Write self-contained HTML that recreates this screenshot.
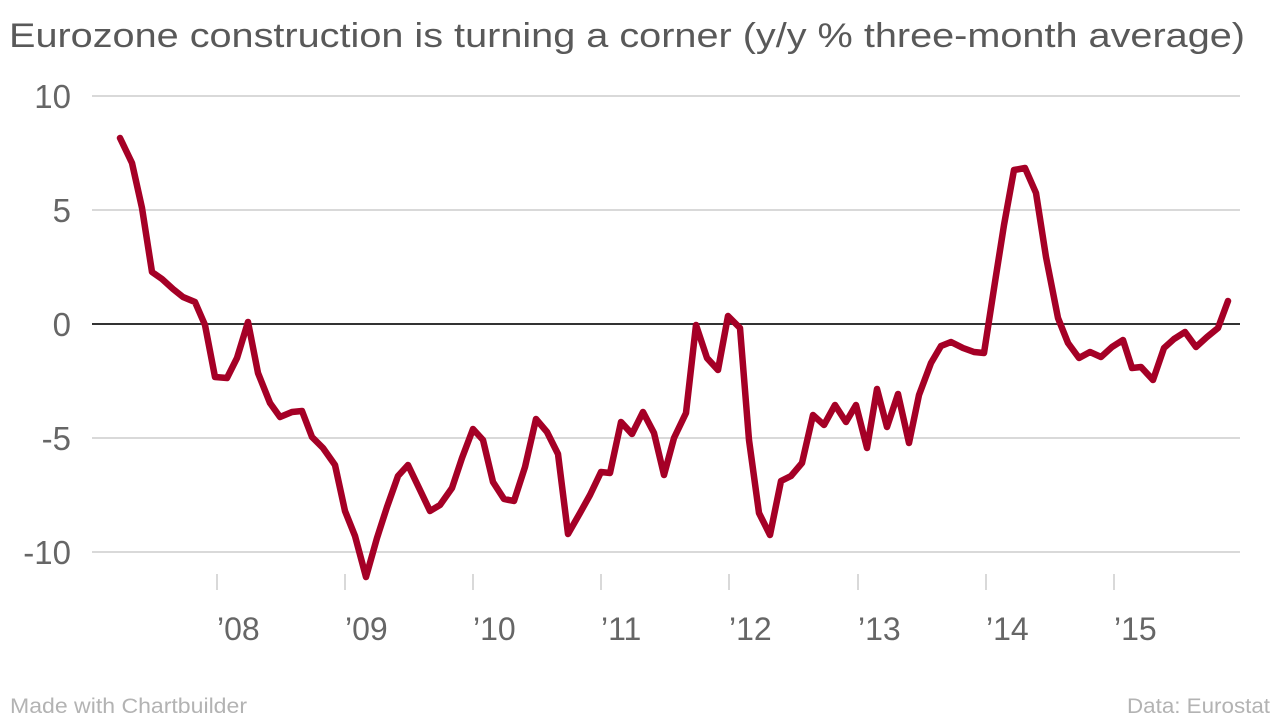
<!DOCTYPE html>
<html><head><meta charset="utf-8"><style>
html,body{margin:0;padding:0;background:#fff;width:1280px;height:720px;overflow:hidden}
svg{display:block}
text{font-family:"Liberation Sans",sans-serif}
</style></head><body>
<svg width="1280" height="720" viewBox="0 0 1280 720" xmlns="http://www.w3.org/2000/svg">
<text x="9" y="47" font-size="34" fill="#595959" textLength="1236" lengthAdjust="spacingAndGlyphs">Eurozone construction is turning a corner (y/y % three-month average)</text>
<g stroke="#d9d9d9" stroke-width="2">
<line x1="92" y1="96" x2="1240" y2="96"/>
<line x1="92" y1="210" x2="1240" y2="210"/>
<line x1="92" y1="438" x2="1240" y2="438"/>
<line x1="92" y1="552" x2="1240" y2="552"/>
<line x1="217" y1="574" x2="217" y2="590"/>
<line x1="345" y1="574" x2="345" y2="590"/>
<line x1="473" y1="574" x2="473" y2="590"/>
<line x1="601" y1="574" x2="601" y2="590"/>
<line x1="729" y1="574" x2="729" y2="590"/>
<line x1="858" y1="574" x2="858" y2="590"/>
<line x1="986" y1="574" x2="986" y2="590"/>
<line x1="1114" y1="574" x2="1114" y2="590"/>
</g>
<line x1="92" y1="324" x2="1240" y2="324" stroke="#333" stroke-width="2"/>
<g font-size="33" fill="#666" text-anchor="end">
<text x="71" y="108">10</text>
<text x="71" y="222">5</text>
<text x="71" y="336">0</text>
<text x="71" y="450">-5</text>
<text x="71" y="564">-10</text>
</g>
<g font-size="32" fill="#666">
<text x="217" y="640">’08</text>
<text x="345" y="640">’09</text>
<text x="473" y="640">’10</text>
<text x="601" y="640">’11</text>
<text x="729" y="640">’12</text>
<text x="858" y="640">’13</text>
<text x="986" y="640">’14</text>
<text x="1114" y="640">’15</text>
</g>
<polyline fill="none" stroke="#a50026" stroke-width="6.5" stroke-linejoin="round" stroke-linecap="round" points="120,138 132,163 142,208 152,272 162,279 173,289 183,297 195,302 205,325 215,377 227,378 237,358 248,322 258,373 270,403 280,417 292,412 302,411 312,437 323,448 335,465 345,511 355,536 366,577 377,538 387,507 398,476 408,465 420,490 430,511 440,505 452,488 462,458 473,429 483,440 493,482 504,499 514,501 525,467 536,419 547,432 558,454 568,534 580,513 590,495 601,472 610,473 621,422 632,434 643,412 654,433 664,475 674,438 686,413 696,325 707,358 718,370 728,316 740,328 749,440 759,513 770,535 781,481 791,476 802,463 813,415 824,425 835,405 846,422 856,405 867,448 877,389 887,427 898,394 909,443 919,395 931,363 941,346 951,342 963,348 974,352 984,353 995,282 1004,225 1014,170 1025,168 1036,193 1046,257 1058,318 1068,343 1079,358 1090,352 1101,357 1112,347 1123,340 1132,368 1141,367 1153,380 1164,348 1174,339 1185,332 1196,347 1207,337 1218,328 1228,301"/>
<text x="10" y="713" font-size="21" fill="#b3b3b3" textLength="237" lengthAdjust="spacingAndGlyphs">Made with Chartbuilder</text>
<text x="1127" y="713" font-size="21" fill="#b3b3b3" textLength="143" lengthAdjust="spacingAndGlyphs">Data: Eurostat</text>
</svg>
</body></html>
